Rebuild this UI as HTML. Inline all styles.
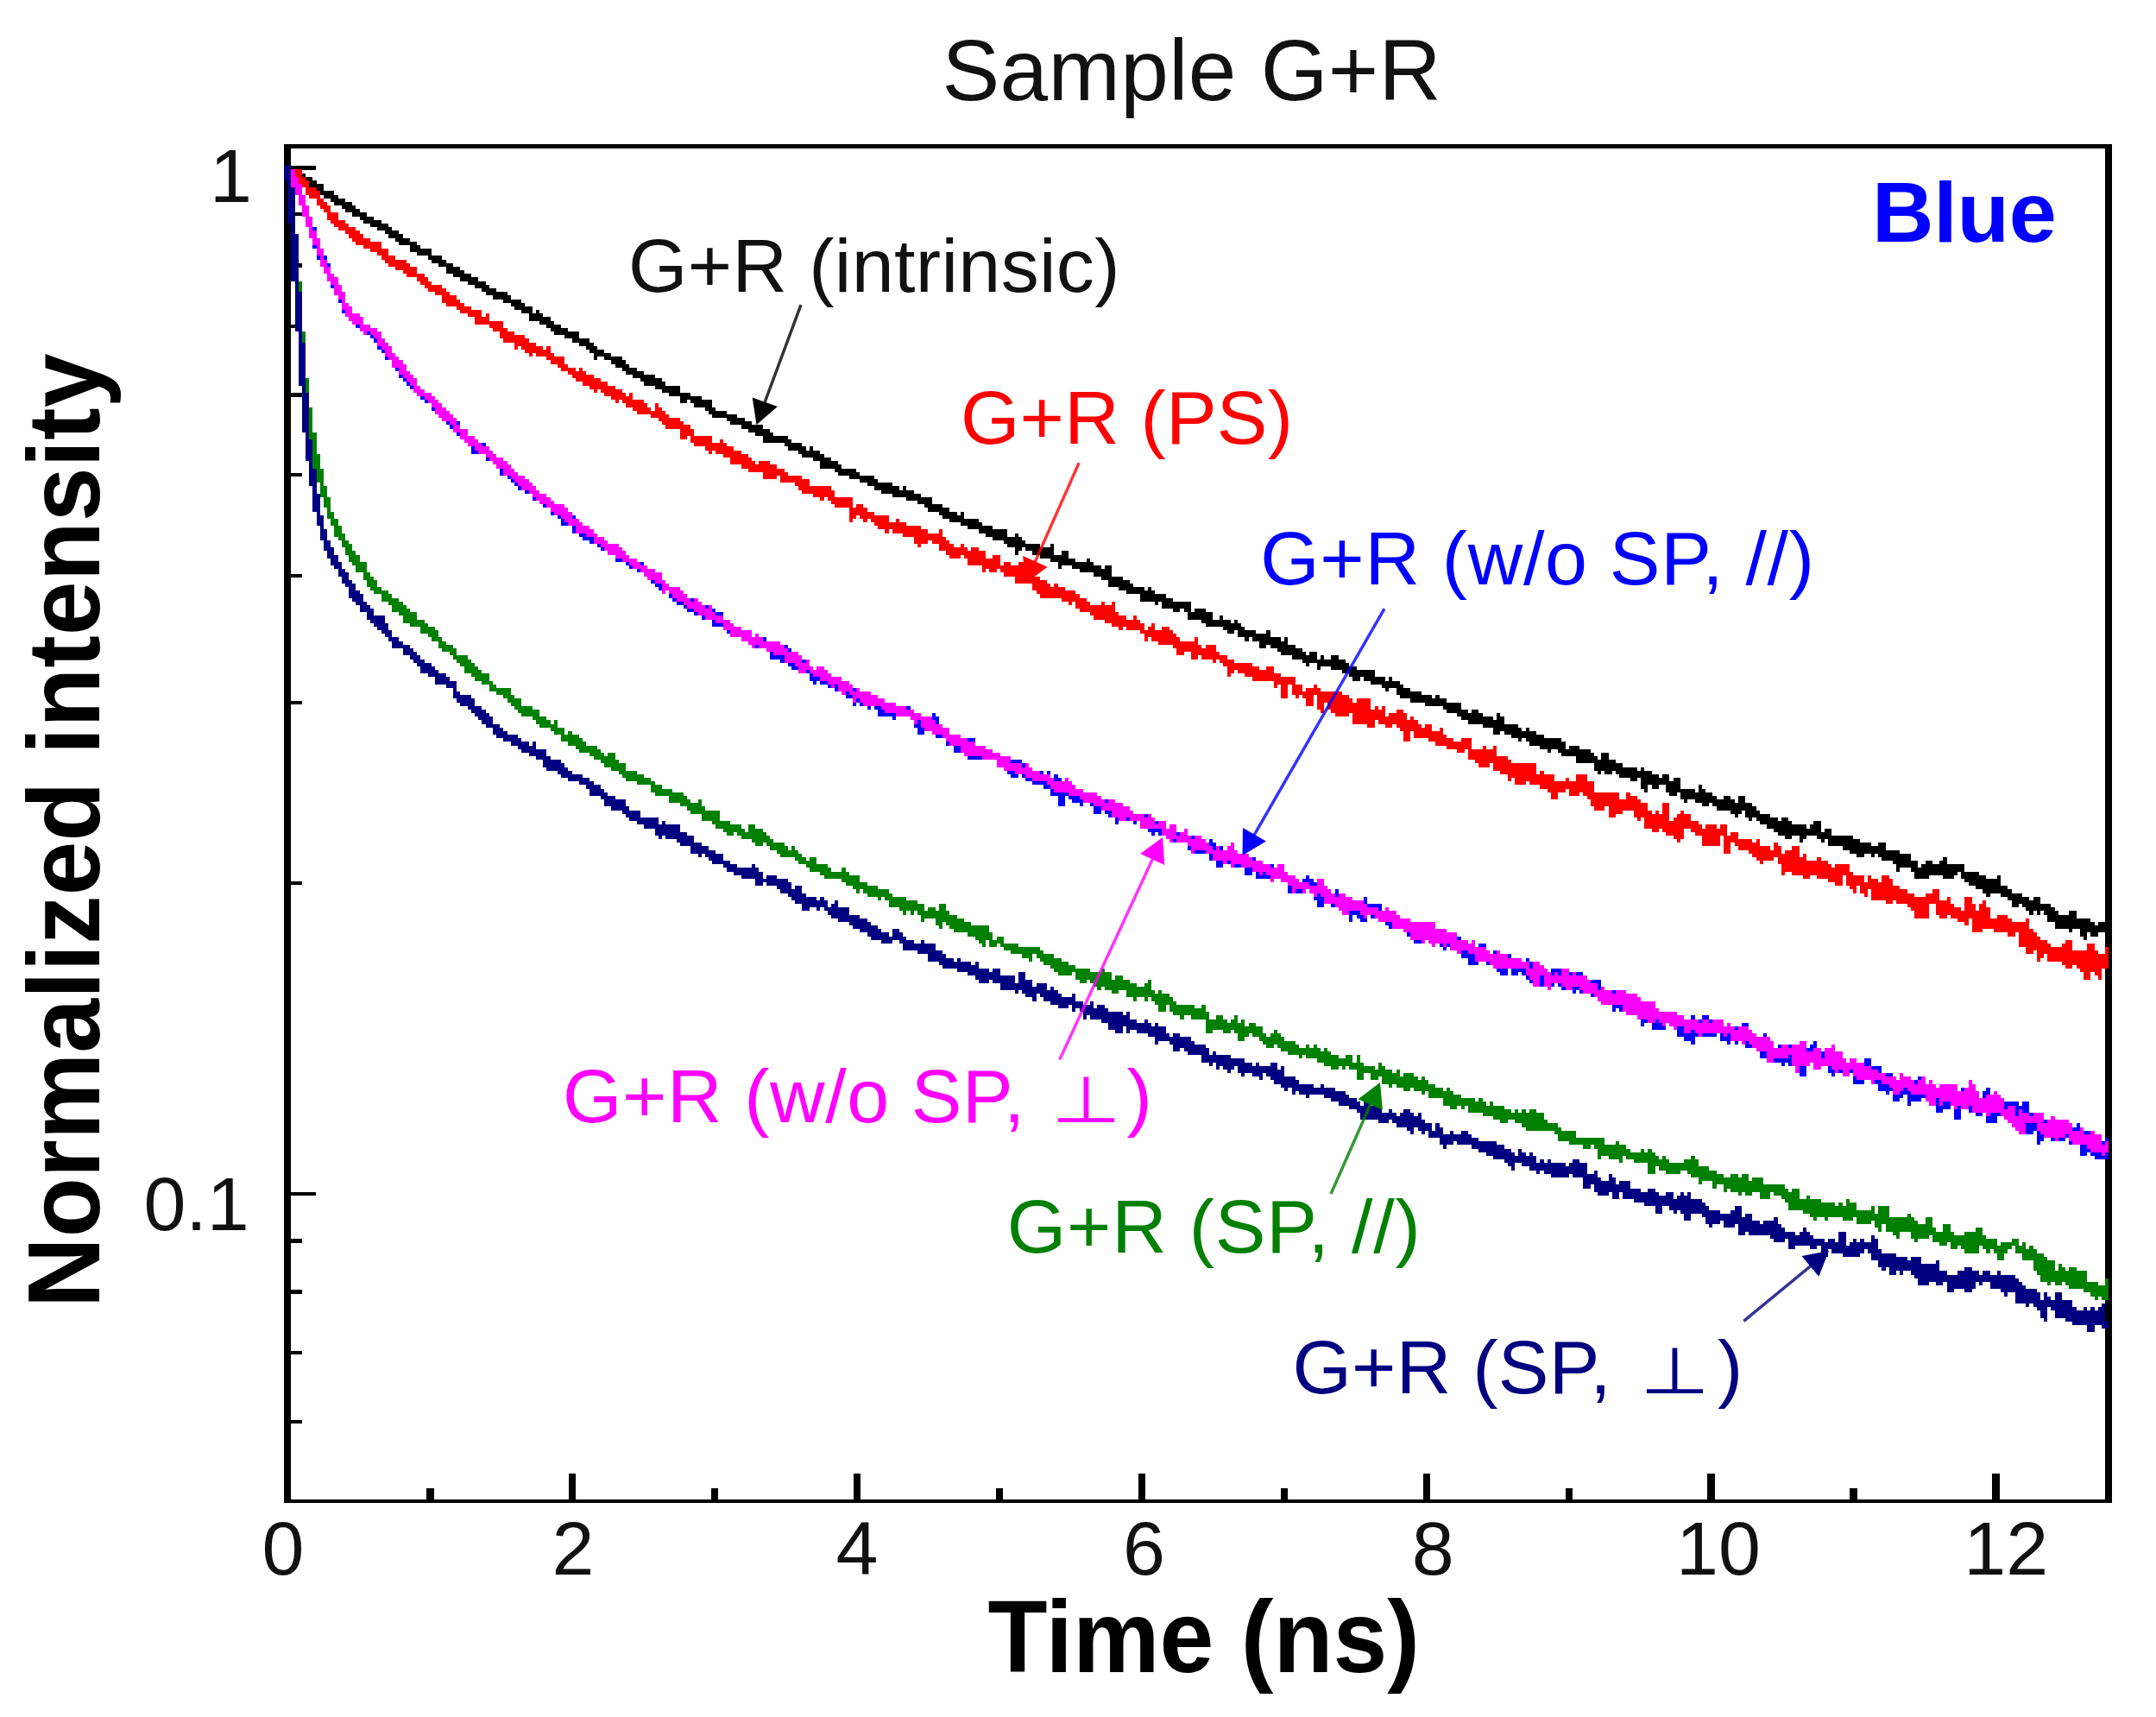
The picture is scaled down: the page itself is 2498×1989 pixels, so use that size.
<!DOCTYPE html>
<html lang="en"><head><meta charset="utf-8"><title>Sample G+R</title><style>html,body{margin:0;padding:0;background:#fff}body{width:2498px;height:1989px;overflow:hidden}svg{display:block}text{font-family:"Liberation Sans","DejaVu Sans",sans-serif}</style></head><body><svg width="2498" height="1989" viewBox="0 0 2498 1989">
<rect width="2498" height="1989" fill="#fff"/>
<g fill="#000" stroke="none" shape-rendering="crispEdges">
<rect x="329.0" y="167.3" width="8" height="1573.5"/>
<rect x="329.0" y="167.3" width="2118.0" height="4.3"/>
<rect x="329.0" y="1736.8" width="2118.0" height="4"/>
<rect x="2439.0" y="167.3" width="8" height="1573.5"/>
<rect x="337" y="192.3" width="29.4" height="4.2"/>
<rect x="337" y="246.1" width="12.7" height="4.2"/>
<rect x="337" y="305.4" width="12.7" height="4.2"/>
<rect x="337" y="376.2" width="12.7" height="4.2"/>
<rect x="337" y="455.4" width="12.7" height="4.2"/>
<rect x="337" y="547.8" width="12.7" height="4.2"/>
<rect x="337" y="664.8" width="12.7" height="4.2"/>
<rect x="337" y="811.5" width="12.7" height="4.2"/>
<rect x="337" y="1021.2" width="12.7" height="4.2"/>
<rect x="337" y="1380.9" width="29.4" height="4.2"/>
<rect x="337" y="1435.3" width="12.7" height="4.2"/>
<rect x="337" y="1494.3" width="12.7" height="4.2"/>
<rect x="337" y="1564.8" width="12.7" height="4.2"/>
<rect x="337" y="1644.5" width="12.7" height="4.2"/>
<rect x="494.2" y="1723.5" width="8.3" height="14"/>
<rect x="659.1" y="1707" width="8.3" height="31"/>
<rect x="824.1" y="1723.5" width="8.3" height="14"/>
<rect x="989.0" y="1707" width="8.3" height="31"/>
<rect x="1153.8" y="1723.5" width="8.3" height="14"/>
<rect x="1318.8" y="1707" width="8.3" height="31"/>
<rect x="1483.6" y="1723.5" width="8.3" height="14"/>
<rect x="1648.5" y="1707" width="8.3" height="31"/>
<rect x="1813.5" y="1723.5" width="8.3" height="14"/>
<rect x="1978.3" y="1707" width="8.3" height="31"/>
<rect x="2143.2" y="1723.5" width="8.3" height="14"/>
<rect x="2308.2" y="1707" width="8.3" height="31"/>
</g>
<g transform="translate(-0.43 0.40) scale(4.170)" shape-rendering="crispEdges" stroke="none">
<path fill="#000" d="M80 46h2v1h-2zM80 47h4v1h-4zM81 48h4v1h-4zM83 49h4v1h-4zM84 50h4v1h-4zM86 51h4v1h-4zM87 52h3v1h-3zM89 53h4v1h-4zM90 54h4v1h-4zM92 55h4v1h-4zM93 56h5v1h-5zM95 57h4v1h-4zM96 58h4v1h-4zM98 59h4v1h-4zM100 60h4v1h-4zM101 61h5v1h-5zM103 62h5v1h-5zM105 63h4v1h-4zM107 64h4v1h-4zM108 65h4v1h-4zM110 66h4v1h-4zM111 67h5v1h-5zM114 68h3v1h-3zM114 69h6v1h-6zM116 70h4v1h-4zM119 71h4v1h-4zM120 72h4v1h-4zM122 73h4v1h-4zM124 74h4v1h-4zM124 75h5v1h-5zM126 76h5v1h-5zM128 77h5v1h-5zM130 78h5v1h-5zM132 79h4v1h-4zM134 80h4v1h-4zM135 81h6v1h-6zM137 82h5v1h-5zM140 83h5v1h-5zM142 84h4v1h-4zM143 85h5v1h-5zM145 86h3v1h-3zM149 86h1v1h-1zM147 87h4v1h-4zM147 88h6v1h-6zM150 89h4v1h-4zM152 90h4v1h-4zM153 91h5v1h-5zM154 92h7v1h-7zM157 93h4v1h-4zM159 94h5v1h-5zM161 95h4v1h-4zM163 96h3v1h-3zM164 97h4v1h-4zM165 98h5v1h-5zM165 99h1v1h-1zM168 99h5v1h-5zM170 100h4v1h-4zM171 101h4v1h-4zM173 102h4v1h-4zM174 103h5v1h-5zM176 104h6v1h-6zM178 105h6v1h-6zM179 106h6v1h-6zM182 107h7v1h-7zM184 108h5v1h-5zM186 109h6v1h-6zM189 110h6v1h-6zM189 111h2v1h-2zM192 111h6v1h-6zM193 112h5v1h-5zM196 113h3v1h-3zM197 114h5v1h-5zM198 115h7v1h-7zM202 116h5v1h-5zM203 117h6v1h-6zM206 118h6v1h-6zM208 119h6v1h-6zM210 120h5v1h-5zM212 121h7v1h-7zM212 122h8v1h-8zM218 123h5v1h-5zM219 124h5v1h-5zM225 124h1v1h-1zM222 125h6v1h-6zM223 126h6v1h-6zM226 127h5v1h-5zM228 128h5v1h-5zM228 129h6v1h-6zM232 130h6v1h-6zM233 131h6v1h-6zM236 132h7v1h-7zM239 133h5v1h-5zM241 134h7v1h-7zM243 135h7v1h-7zM251 135h1v1h-1zM245 136h9v1h-9zM248 137h8v1h-8zM252 138h7v1h-7zM255 139h4v1h-4zM257 140h5v1h-5zM258 141h6v1h-6zM261 142h5v1h-5zM267 142h1v1h-1zM262 143h6v1h-6zM264 144h8v1h-8zM267 145h6v1h-6zM269 146h7v1h-7zM272 147h8v1h-8zM274 148h6v1h-6zM282 148h1v1h-1zM276 149h8v1h-8zM279 150h6v1h-6zM280 151h9v1h-9zM292 151h1v1h-1zM282 152h2v1h-2zM285 152h8v1h-8zM282 153h1v1h-1zM287 153h6v1h-6zM295 153h2v1h-2zM289 154h8v1h-8zM292 155h7v1h-7zM302 155h1v1h-1zM294 156h10v1h-10zM294 157h1v1h-1zM298 157h8v1h-8zM307 157h2v1h-2zM300 158h9v1h-9zM304 159h5v1h-5zM306 160h6v1h-6zM308 161h6v1h-6zM308 162h7v1h-7zM311 163h7v1h-7zM319 163h1v1h-1zM313 164h8v1h-8zM317 165h7v1h-7zM317 166h9v1h-9zM321 167h1v1h-1zM323 167h8v1h-8zM323 168h8v1h-8zM326 169h2v1h-2zM329 169h2v1h-2zM332 169h3v1h-3zM330 170h7v1h-7zM330 171h7v1h-7zM339 171h1v1h-1zM334 172h8v1h-8zM343 172h1v1h-1zM335 173h10v1h-10zM340 174h6v1h-6zM341 175h2v1h-2zM344 175h5v1h-5zM352 175h1v1h-1zM344 176h9v1h-9zM346 177h1v1h-1zM348 177h8v1h-8zM357 177h1v1h-1zM350 178h8v1h-8zM350 179h2v1h-2zM353 179h7v1h-7zM355 180h7v1h-7zM356 181h7v1h-7zM364 181h2v1h-2zM359 182h7v1h-7zM367 182h1v1h-1zM370 182h2v1h-2zM362 183h12v1h-12zM363 184h1v1h-1zM366 184h9v1h-9zM366 185h1v1h-1zM370 185h7v1h-7zM373 186h9v1h-9zM375 187h7v1h-7zM376 188h2v1h-2zM379 188h6v1h-6zM386 188h1v1h-1zM381 189h8v1h-8zM384 190h6v1h-6zM385 191h1v1h-1zM388 191h4v1h-4zM388 192h7v1h-7zM389 193h9v1h-9zM399 193h1v1h-1zM392 194h10v1h-10zM396 195h10v1h-10zM401 196h5v1h-5zM402 197h6v1h-6zM409 197h2v1h-2zM405 198h7v1h-7zM416 198h1v1h-1zM406 199h9v1h-9zM416 199h2v1h-2zM408 200h10v1h-10zM412 201h10v1h-10zM415 202h8v1h-8zM424 202h1v1h-1zM415 203h2v1h-2zM418 203h9v1h-9zM420 204h9v1h-9zM422 205h1v1h-1zM424 205h10v1h-10zM425 206h10v1h-10zM428 207h7v1h-7zM436 207h3v1h-3zM430 208h1v1h-1zM433 208h9v1h-9zM434 209h9v1h-9zM445 209h2v1h-2zM438 210h6v1h-6zM445 210h2v1h-2zM438 211h11v1h-11zM443 212h8v1h-8zM443 213h12v1h-12zM456 213h1v1h-1zM444 214h1v1h-1zM446 214h2v1h-2zM449 214h10v1h-10zM450 215h11v1h-11zM462 215h2v1h-2zM453 216h2v1h-2zM456 216h8v1h-8zM465 216h2v1h-2zM456 217h11v1h-11zM456 218h2v1h-2zM459 218h2v1h-2zM463 218h4v1h-4zM472 218h1v1h-1zM457 219h1v1h-1zM463 219h8v1h-8zM472 219h2v1h-2zM464 220h2v1h-2zM467 220h9v1h-9zM467 221h10v1h-10zM479 221h2v1h-2zM483 221h2v1h-2zM468 222h1v1h-1zM471 222h11v1h-11zM483 222h2v1h-2zM473 223h2v1h-2zM476 223h11v1h-11zM477 224h11v1h-11zM481 225h3v1h-3zM485 225h4v1h-4zM482 226h1v1h-1zM485 226h7v1h-7zM486 227h1v1h-1zM488 227h6v1h-6zM495 227h2v1h-2zM489 228h9v1h-9zM504 228h2v1h-2zM491 229h11v1h-11zM503 229h3v1h-3zM493 230h13v1h-13zM507 230h2v1h-2zM494 231h15v1h-15zM496 232h2v1h-2zM500 232h2v1h-2zM505 232h10v1h-10zM500 233h1v1h-1zM506 233h1v1h-1zM508 233h9v1h-9zM508 234h12v1h-12zM522 234h2v1h-2zM512 235h12v1h-12zM514 236h14v1h-14zM516 237h2v1h-2zM520 237h1v1h-1zM522 237h9v1h-9zM523 238h8v1h-8zM540 238h1v1h-1zM526 239h7v1h-7zM535 239h2v1h-2zM539 239h2v1h-2zM527 240h6v1h-6zM534 240h12v1h-12zM527 241h1v1h-1zM531 241h15v1h-15zM532 242h12v1h-12zM545 242h5v1h-5zM532 243h4v1h-4zM540 243h3v1h-3zM545 243h7v1h-7zM555 243h1v1h-1zM546 244h10v1h-10zM547 245h9v1h-9zM549 246h9v1h-9zM551 247h8v1h-8zM552 248h1v1h-1zM556 248h6v1h-6zM558 249h6v1h-6zM565 249h2v1h-2zM559 250h8v1h-8zM559 251h2v1h-2zM562 251h8v1h-8zM563 252h8v1h-8zM564 253h1v1h-1zM566 253h1v1h-1zM568 253h4v1h-4zM575 253h2v1h-2zM569 254h8v1h-8zM585 254h1v1h-1zM569 255h12v1h-12zM585 255h1v1h-1zM571 256h11v1h-11zM583 256h3v1h-3zM571 257h15v1h-15zM575 258h1v1h-1zM578 258h7v1h-7zM578 259h2v1h-2zM581 259h2v1h-2zM579 260h1v1h-1z"/>
<path fill="#f00" d="M80 46h1v1h-1zM80 47h4v1h-4zM80 48h4v1h-4zM82 49h3v1h-3zM83 50h3v1h-3zM84 51h2v1h-2zM85 52h3v1h-3zM85 53h4v1h-4zM86 54h3v1h-3zM88 55h2v1h-2zM88 56h3v1h-3zM89 57h3v1h-3zM90 58h2v1h-2zM91 59h3v1h-3zM91 60h3v1h-3zM92 61h4v1h-4zM93 62h4v1h-4zM94 63h5v1h-5zM96 64h4v1h-4zM97 65h4v1h-4zM98 66h5v1h-5zM99 67h7v1h-7zM101 68h5v1h-5zM103 69h5v1h-5zM105 70h3v1h-3zM106 71h4v1h-4zM107 72h6v1h-6zM108 73h6v1h-6zM110 74h6v1h-6zM112 75h4v1h-4zM113 76h5v1h-5zM116 77h3v1h-3zM117 78h3v1h-3zM118 79h5v1h-5zM119 80h5v1h-5zM121 81h4v1h-4zM123 82h4v1h-4zM123 83h5v1h-5zM124 84h5v1h-5zM127 85h4v1h-4zM128 86h6v1h-6zM130 87h4v1h-4zM135 87h1v1h-1zM132 88h4v1h-4zM132 89h8v1h-8zM136 90h4v1h-4zM137 91h4v1h-4zM139 92h4v1h-4zM139 93h7v1h-7zM140 94h7v1h-7zM143 95h6v1h-6zM143 96h1v1h-1zM145 96h6v1h-6zM152 96h1v1h-1zM146 97h7v1h-7zM147 98h1v1h-1zM149 98h5v1h-5zM152 99h5v1h-5zM153 100h4v1h-4zM155 101h3v1h-3zM156 102h4v1h-4zM161 102h1v1h-1zM158 103h5v1h-5zM159 104h6v1h-6zM160 105h7v1h-7zM162 106h7v1h-7zM164 107h7v1h-7zM165 108h1v1h-1zM167 108h6v1h-6zM168 109h6v1h-6zM175 109h1v1h-1zM170 110h6v1h-6zM171 111h1v1h-1zM173 111h6v1h-6zM174 112h6v1h-6zM182 112h1v1h-1zM176 113h5v1h-5zM182 113h2v1h-2zM177 114h8v1h-8zM181 115h5v1h-5zM183 116h6v1h-6zM184 117h6v1h-6zM185 118h7v1h-7zM189 119h4v1h-4zM189 120h4v1h-4zM189 121h2v1h-2zM192 121h6v1h-6zM192 122h6v1h-6zM200 122h1v1h-1zM193 123h9v1h-9zM196 124h8v1h-8zM197 125h1v1h-1zM199 125h7v1h-7zM201 126h7v1h-7zM203 127h6v1h-6zM203 128h7v1h-7zM211 128h3v1h-3zM206 129h10v1h-10zM208 130h10v1h-10zM212 131h7v1h-7zM212 132h4v1h-4zM217 132h6v1h-6zM217 133h8v1h-8zM221 134h4v1h-4zM222 135h9v1h-9zM223 136h9v1h-9zM226 137h6v1h-6zM228 138h1v1h-1zM230 138h7v1h-7zM231 139h6v1h-6zM232 140h5v1h-5zM238 140h2v1h-2zM236 141h5v1h-5zM236 142h7v1h-7zM236 143h2v1h-2zM239 143h8v1h-8zM236 144h1v1h-1zM240 144h1v1h-1zM242 144h5v1h-5zM249 144h1v1h-1zM243 145h9v1h-9zM244 146h12v1h-12zM246 147h1v1h-1zM248 147h10v1h-10zM261 147h1v1h-1zM251 148h11v1h-11zM254 149h9v1h-9zM254 150h4v1h-4zM259 150h5v1h-5zM255 151h1v1h-1zM261 151h4v1h-4zM267 151h1v1h-1zM261 152h8v1h-8zM270 152h2v1h-2zM263 153h11v1h-11zM264 154h3v1h-3zM268 154h6v1h-6zM276 154h2v1h-2zM269 155h9v1h-9zM269 156h9v1h-9zM279 156h2v1h-2zM283 156h2v1h-2zM273 157h12v1h-12zM273 158h1v1h-1zM275 158h2v1h-2zM278 158h7v1h-7zM286 158h1v1h-1zM279 159h8v1h-8zM282 160h7v1h-7zM282 161h9v1h-9zM287 162h5v1h-5zM293 162h1v1h-1zM287 163h9v1h-9zM288 164h11v1h-11zM289 165h11v1h-11zM295 166h7v1h-7zM297 167h1v1h-1zM299 167h4v1h-4zM306 167h1v1h-1zM309 167h1v1h-1zM299 168h11v1h-11zM300 169h10v1h-10zM303 170h8v1h-8zM304 171h9v1h-9zM315 171h1v1h-1zM307 172h10v1h-10zM309 173h9v1h-9zM320 173h1v1h-1zM311 174h1v1h-1zM313 174h5v1h-5zM319 174h2v1h-2zM323 174h2v1h-2zM317 175h9v1h-9zM318 176h9v1h-9zM318 177h1v1h-1zM320 177h8v1h-8zM332 177h1v1h-1zM322 178h11v1h-11zM326 179h8v1h-8zM335 179h3v1h-3zM327 180h11v1h-11zM327 181h2v1h-2zM331 181h8v1h-8zM331 182h2v1h-2zM334 182h7v1h-7zM337 183h1v1h-1zM339 183h4v1h-4zM340 184h8v1h-8zM341 185h9v1h-9zM352 185h2v1h-2zM341 186h2v1h-2zM344 186h10v1h-10zM341 187h1v1h-1zM346 187h10v1h-10zM348 188h12v1h-12zM354 189h6v1h-6zM354 190h1v1h-1zM356 190h2v1h-2zM359 190h3v1h-3zM365 190h1v1h-1zM356 191h2v1h-2zM359 191h3v1h-3zM363 191h4v1h-4zM356 192h2v1h-2zM359 192h14v1h-14zM356 193h2v1h-2zM360 193h1v1h-1zM362 193h3v1h-3zM366 193h9v1h-9zM363 194h2v1h-2zM366 194h10v1h-10zM377 194h4v1h-4zM363 195h2v1h-2zM366 195h2v1h-2zM369 195h12v1h-12zM366 196h2v1h-2zM369 196h12v1h-12zM382 196h1v1h-1zM384 196h1v1h-1zM367 197h1v1h-1zM370 197h15v1h-15zM388 197h2v1h-2zM371 198h4v1h-4zM376 198h9v1h-9zM386 198h5v1h-5zM376 199h15v1h-15zM392 199h1v1h-1zM376 200h6v1h-6zM383 200h11v1h-11zM380 201h2v1h-2zM385 201h2v1h-2zM388 201h7v1h-7zM396 201h2v1h-2zM389 202h9v1h-9zM400 202h1v1h-1zM390 203h2v1h-2zM393 203h8v1h-8zM390 204h2v1h-2zM393 204h9v1h-9zM390 205h2v1h-2zM397 205h7v1h-7zM406 205h3v1h-3zM399 206h10v1h-10zM402 207h7v1h-7zM412 207h1v1h-1zM415 207h1v1h-1zM405 208h2v1h-2zM408 208h8v1h-8zM408 209h8v1h-8zM408 210h11v1h-11zM410 211h10v1h-10zM411 212h3v1h-3zM415 212h12v1h-12zM415 213h12v1h-12zM417 214h10v1h-10zM428 214h1v1h-1zM419 215h13v1h-13zM438 215h3v1h-3zM419 216h1v1h-1zM421 216h11v1h-11zM435 216h1v1h-1zM438 216h3v1h-3zM421 217h3v1h-3zM425 217h18v1h-18zM428 218h15v1h-15zM430 219h5v1h-5zM436 219h7v1h-7zM431 220h2v1h-2zM436 220h3v1h-3zM440 220h10v1h-10zM452 220h1v1h-1zM431 221h2v1h-2zM441 221h9v1h-9zM452 221h3v1h-3zM442 222h14v1h-14zM442 223h16v1h-16zM462 223h2v1h-2zM443 224h3v1h-3zM447 224h11v1h-11zM462 224h2v1h-2zM447 225h4v1h-4zM454 225h5v1h-5zM460 225h1v1h-1zM462 225h2v1h-2zM467 225h1v1h-1zM447 226h2v1h-2zM454 226h10v1h-10zM466 226h4v1h-4zM455 227h1v1h-1zM457 227h7v1h-7zM465 227h5v1h-5zM457 228h15v1h-15zM457 229h16v1h-16zM474 229h3v1h-3zM478 229h2v1h-2zM459 230h2v1h-2zM462 230h6v1h-6zM470 230h10v1h-10zM463 231h5v1h-5zM471 231h9v1h-9zM481 231h2v1h-2zM465 232h3v1h-3zM473 232h5v1h-5zM479 232h4v1h-4zM466 233h1v1h-1zM473 233h5v1h-5zM479 233h8v1h-8zM488 233h1v1h-1zM473 234h5v1h-5zM479 234h2v1h-2zM482 234h7v1h-7zM493 234h1v1h-1zM479 235h2v1h-2zM483 235h9v1h-9zM493 235h2v1h-2zM498 235h2v1h-2zM479 236h2v1h-2zM486 236h9v1h-9zM496 236h4v1h-4zM487 237h13v1h-13zM501 237h1v1h-1zM488 238h5v1h-5zM494 238h8v1h-8zM505 238h1v1h-1zM489 239h1v1h-1zM494 239h14v1h-14zM495 240h14v1h-14zM510 240h4v1h-4zM495 241h19v1h-19zM495 242h1v1h-1zM498 242h17v1h-17zM501 243h2v1h-2zM505 243h7v1h-7zM513 243h5v1h-5zM519 243h1v1h-1zM523 243h2v1h-2zM508 244h4v1h-4zM513 244h5v1h-5zM519 244h3v1h-3zM523 244h3v1h-3zM510 245h2v1h-2zM513 245h13v1h-13zM514 246h2v1h-2zM517 246h11v1h-11zM515 247h1v1h-1zM517 247h2v1h-2zM520 247h10v1h-10zM537 247h2v1h-2zM518 248h1v1h-1zM520 248h12v1h-12zM535 248h4v1h-4zM520 249h19v1h-19zM541 249h1v1h-1zM546 249h2v1h-2zM524 250h2v1h-2zM527 250h15v1h-15zM546 250h2v1h-2zM551 250h1v1h-1zM530 251h6v1h-6zM538 251h5v1h-5zM546 251h3v1h-3zM550 251h2v1h-2zM531 252h5v1h-5zM538 252h7v1h-7zM546 252h3v1h-3zM550 252h3v1h-3zM532 253h4v1h-4zM538 253h15v1h-15zM532 254h4v1h-4zM539 254h2v1h-2zM542 254h11v1h-11zM555 254h3v1h-3zM544 255h3v1h-3zM548 255h11v1h-11zM563 255h1v1h-1zM546 256h1v1h-1zM548 256h16v1h-16zM548 257h16v1h-16zM548 258h3v1h-3zM554 258h11v1h-11zM558 259h2v1h-2zM561 259h5v1h-5zM561 260h6v1h-6zM561 261h8v1h-8zM574 261h2v1h-2zM561 262h9v1h-9zM573 262h3v1h-3zM580 262h2v1h-2zM563 263h13v1h-13zM580 263h2v1h-2zM585 263h1v1h-1zM563 264h2v1h-2zM566 264h17v1h-17zM585 264h1v1h-1zM566 265h2v1h-2zM569 265h17v1h-17zM566 266h1v1h-1zM569 266h17v1h-17zM573 267h13v1h-13zM574 268h2v1h-2zM577 268h9v1h-9zM578 269h6v1h-6zM579 270h2v1h-2zM582 270h2v1h-2zM579 271h2v1h-2zM583 271h1v1h-1z"/>
<path fill="#00f" d="M80 46h1v1h-1zM80 47h2v1h-2zM80 48h2v1h-2zM81 49h2v1h-2zM81 50h2v1h-2zM81 51h3v1h-3zM82 52h2v1h-2zM82 53h2v1h-2zM83 54h1v1h-1zM83 55h2v1h-2zM83 56h2v1h-2zM84 57h2v1h-2zM84 58h2v1h-2zM84 59h2v1h-2zM85 60h2v1h-2zM85 61h2v1h-2zM85 62h2v1h-2zM86 63h2v1h-2zM86 64h2v1h-2zM86 65h2v1h-2zM87 66h2v1h-2zM87 67h2v1h-2zM87 68h2v1h-2zM88 69h2v1h-2zM88 70h2v1h-2zM88 71h3v1h-3zM89 72h2v1h-2zM90 73h2v1h-2zM90 74h2v1h-2zM91 75h1v1h-1zM91 76h2v1h-2zM92 77h2v1h-2zM92 78h2v1h-2zM92 79h2v1h-2zM93 80h2v1h-2zM93 81h2v1h-2zM94 82h2v1h-2zM94 83h2v1h-2zM95 84h2v1h-2zM95 85h2v1h-2zM95 86h3v1h-3zM96 87h3v1h-3zM97 88h4v1h-4zM98 89h3v1h-3zM99 90h4v1h-4zM101 91h3v1h-3zM102 92h4v1h-4zM103 93h3v1h-3zM104 94h3v1h-3zM105 95h2v1h-2zM105 96h3v1h-3zM106 97h3v1h-3zM107 98h3v1h-3zM107 99h4v1h-4zM109 100h3v1h-3zM109 101h3v1h-3zM110 102h2v1h-2zM111 103h2v1h-2zM111 104h4v1h-4zM112 105h3v1h-3zM113 106h3v1h-3zM114 107h3v1h-3zM115 108h3v1h-3zM116 109h4v1h-4zM117 110h4v1h-4zM118 111h3v1h-3zM120 112h2v1h-2zM120 113h4v1h-4zM121 114h3v1h-3zM122 115h2v1h-2zM123 116h3v1h-3zM124 117h4v1h-4zM125 118h3v1h-3zM127 119h2v1h-2zM127 120h3v1h-3zM128 121h4v1h-4zM129 122h4v1h-4zM130 123h5v1h-5zM131 124h5v1h-5zM131 125h6v1h-6zM135 126h3v1h-3zM135 127h5v1h-5zM137 128h4v1h-4zM138 129h3v1h-3zM139 130h3v1h-3zM139 131h5v1h-5zM141 132h3v1h-3zM142 133h4v1h-4zM143 134h4v1h-4zM144 135h5v1h-5zM146 136h4v1h-4zM148 137h2v1h-2zM151 137h1v1h-1zM148 138h5v1h-5zM150 139h3v1h-3zM151 140h4v1h-4zM153 141h3v1h-3zM153 142h1v1h-1zM155 142h3v1h-3zM155 143h5v1h-5zM156 144h4v1h-4zM156 145h5v1h-5zM159 146h2v1h-2zM162 146h2v1h-2zM159 147h5v1h-5zM161 148h4v1h-4zM162 149h6v1h-6zM164 150h5v1h-5zM166 151h4v1h-4zM167 152h5v1h-5zM169 153h4v1h-4zM171 154h4v1h-4zM171 155h6v1h-6zM174 156h5v1h-5zM175 157h5v1h-5zM177 158h4v1h-4zM179 159h3v1h-3zM180 160h4v1h-4zM181 161h4v1h-4zM182 162h4v1h-4zM183 163h5v1h-5zM186 164h3v1h-3zM186 165h5v1h-5zM187 166h6v1h-6zM188 167h6v1h-6zM190 168h8v1h-8zM191 169h8v1h-8zM193 170h8v1h-8zM195 171h1v1h-1zM198 171h3v1h-3zM198 172h4v1h-4zM198 173h6v1h-6zM201 174h5v1h-5zM202 175h6v1h-6zM204 176h5v1h-5zM207 177h6v1h-6zM208 178h6v1h-6zM215 178h1v1h-1zM210 179h9v1h-9zM213 180h7v1h-7zM214 181h7v1h-7zM214 182h9v1h-9zM217 183h1v1h-1zM219 183h5v1h-5zM219 184h5v1h-5zM220 185h6v1h-6zM227 185h1v1h-1zM223 186h7v1h-7zM225 187h5v1h-5zM225 188h7v1h-7zM226 189h1v1h-1zM228 189h7v1h-7zM230 190h6v1h-6zM232 191h6v1h-6zM235 192h5v1h-5zM235 193h7v1h-7zM237 194h7v1h-7zM237 195h1v1h-1zM239 195h6v1h-6zM247 195h1v1h-1zM241 196h1v1h-1zM243 196h6v1h-6zM250 196h3v1h-3zM244 197h10v1h-10zM244 198h11v1h-11zM259 198h1v1h-1zM248 199h1v1h-1zM253 199h2v1h-2zM258 199h3v1h-3zM254 200h2v1h-2zM257 200h4v1h-4zM254 201h8v1h-8zM255 202h9v1h-9zM255 203h2v1h-2zM259 203h5v1h-5zM260 204h6v1h-6zM263 205h8v1h-8zM263 206h8v1h-8zM265 207h7v1h-7zM265 208h2v1h-2zM268 208h7v1h-7zM269 209h9v1h-9zM269 210h9v1h-9zM279 210h1v1h-1zM277 211h7v1h-7zM277 212h8v1h-8zM279 213h7v1h-7zM280 214h10v1h-10zM291 214h1v1h-1zM281 215h2v1h-2zM284 215h8v1h-8zM293 215h1v1h-1zM285 216h10v1h-10zM287 217h9v1h-9zM290 218h8v1h-8zM292 219h6v1h-6zM292 220h11v1h-11zM294 221h2v1h-2zM297 221h7v1h-7zM305 221h1v1h-1zM294 222h2v1h-2zM298 222h11v1h-11zM294 223h2v1h-2zM300 223h1v1h-1zM303 223h8v1h-8zM304 224h8v1h-8zM304 225h2v1h-2zM307 225h8v1h-8zM308 226h11v1h-11zM310 227h1v1h-1zM313 227h7v1h-7zM310 228h1v1h-1zM315 228h1v1h-1zM317 228h3v1h-3zM321 228h2v1h-2zM317 229h6v1h-6zM319 230h8v1h-8zM320 231h1v1h-1zM322 231h8v1h-8zM324 232h8v1h-8zM326 233h8v1h-8zM336 233h1v1h-1zM330 234h8v1h-8zM330 235h10v1h-10zM331 236h10v1h-10zM342 236h2v1h-2zM336 237h8v1h-8zM345 237h1v1h-1zM336 238h13v1h-13zM338 239h13v1h-13zM338 240h2v1h-2zM342 240h12v1h-12zM355 240h1v1h-1zM346 241h10v1h-10zM346 242h2v1h-2zM349 242h8v1h-8zM349 243h10v1h-10zM363 243h1v1h-1zM356 244h5v1h-5zM362 244h3v1h-3zM358 245h8v1h-8zM358 246h9v1h-9zM358 247h5v1h-5zM364 247h6v1h-6zM371 247h1v1h-1zM365 248h9v1h-9zM365 249h9v1h-9zM379 249h1v1h-1zM366 250h10v1h-10zM378 250h2v1h-2zM366 251h2v1h-2zM370 251h7v1h-7zM378 251h6v1h-6zM374 252h10v1h-10zM375 253h11v1h-11zM375 254h1v1h-1zM377 254h3v1h-3zM381 254h1v1h-1zM383 254h4v1h-4zM375 255h1v1h-1zM378 255h2v1h-2zM384 255h7v1h-7zM385 256h7v1h-7zM393 256h2v1h-2zM386 257h10v1h-10zM397 257h1v1h-1zM390 258h10v1h-10zM391 259h10v1h-10zM393 260h13v1h-13zM393 261h3v1h-3zM397 261h9v1h-9zM400 262h7v1h-7zM408 262h2v1h-2zM411 262h2v1h-2zM401 263h1v1h-1zM406 263h1v1h-1zM408 263h2v1h-2zM411 263h2v1h-2zM406 264h8v1h-8zM415 264h2v1h-2zM406 265h11v1h-11zM419 265h1v1h-1zM408 266h9v1h-9zM418 266h5v1h-5zM424 266h1v1h-1zM408 267h3v1h-3zM413 267h13v1h-13zM415 268h4v1h-4zM420 268h6v1h-6zM416 269h3v1h-3zM420 269h7v1h-7zM428 269h2v1h-2zM431 269h5v1h-5zM417 270h2v1h-2zM420 270h2v1h-2zM423 270h14v1h-14zM438 270h2v1h-2zM424 271h17v1h-17zM425 272h1v1h-1zM427 272h18v1h-18zM428 273h4v1h-4zM433 273h12v1h-12zM434 274h2v1h-2zM437 274h9v1h-9zM437 275h1v1h-1zM439 275h1v1h-1zM441 275h8v1h-8zM442 276h1v1h-1zM445 276h4v1h-4zM451 276h2v1h-2zM445 277h4v1h-4zM450 277h3v1h-3zM455 277h1v1h-1zM445 278h13v1h-13zM448 279h12v1h-12zM448 280h1v1h-1zM450 280h1v1h-1zM452 280h8v1h-8zM453 281h1v1h-1zM455 281h8v1h-8zM456 282h10v1h-10zM470 282h1v1h-1zM473 282h2v1h-2zM456 283h13v1h-13zM470 283h7v1h-7zM456 284h1v1h-1zM459 284h4v1h-4zM464 284h15v1h-15zM484 284h2v1h-2zM459 285h4v1h-4zM465 285h16v1h-16zM482 285h1v1h-1zM484 285h2v1h-2zM466 286h21v1h-21zM466 287h6v1h-6zM473 287h4v1h-4zM478 287h10v1h-10zM490 287h1v1h-1zM468 288h3v1h-3zM478 288h14v1h-14zM470 289h1v1h-1zM480 289h1v1h-1zM482 289h1v1h-1zM485 289h7v1h-7zM500 289h1v1h-1zM504 289h1v1h-1zM485 290h8v1h-8zM494 290h7v1h-7zM503 290h2v1h-2zM489 291h16v1h-16zM489 292h18v1h-18zM508 292h1v1h-1zM489 293h2v1h-2zM492 293h20v1h-20zM493 294h5v1h-5zM499 294h4v1h-4zM504 294h9v1h-9zM518 294h2v1h-2zM495 295h1v1h-1zM497 295h1v1h-1zM499 295h3v1h-3zM507 295h13v1h-13zM500 296h2v1h-2zM508 296h15v1h-15zM500 297h2v1h-2zM508 297h15v1h-15zM500 298h2v1h-2zM509 298h1v1h-1zM512 298h2v1h-2zM515 298h11v1h-11zM515 299h11v1h-11zM528 299h2v1h-2zM533 299h2v1h-2zM515 300h3v1h-3zM521 300h6v1h-6zM528 300h7v1h-7zM522 301h14v1h-14zM522 302h16v1h-16zM541 302h2v1h-2zM545 302h2v1h-2zM552 302h1v1h-1zM524 303h1v1h-1zM526 303h12v1h-12zM540 303h4v1h-4zM545 303h2v1h-2zM551 303h2v1h-2zM526 304h3v1h-3zM530 304h18v1h-18zM549 304h1v1h-1zM551 304h2v1h-2zM526 305h2v1h-2zM530 305h4v1h-4zM535 305h15v1h-15zM551 305h2v1h-2zM555 305h2v1h-2zM530 306h1v1h-1zM538 306h4v1h-4zM543 306h2v1h-2zM546 306h8v1h-8zM555 306h6v1h-6zM562 306h2v1h-2zM538 307h4v1h-4zM543 307h2v1h-2zM546 307h18v1h-18zM538 308h2v1h-2zM543 308h2v1h-2zM547 308h4v1h-4zM552 308h12v1h-12zM543 309h2v1h-2zM549 309h2v1h-2zM552 309h4v1h-4zM557 309h10v1h-10zM543 310h2v1h-2zM552 310h3v1h-3zM557 310h10v1h-10zM552 311h3v1h-3zM559 311h11v1h-11zM573 311h1v1h-1zM559 312h15v1h-15zM577 312h1v1h-1zM560 313h1v1h-1zM562 313h17v1h-17zM562 314h3v1h-3zM566 314h16v1h-16zM566 315h3v1h-3zM570 315h12v1h-12zM566 316h2v1h-2zM570 316h4v1h-4zM575 316h9v1h-9zM585 316h1v1h-1zM566 317h1v1h-1zM575 317h11v1h-11zM578 318h8v1h-8zM578 319h8v1h-8zM578 320h2v1h-2zM581 320h5v1h-5zM582 321h4v1h-4z"/>
<path fill="#f0f" d="M80 46h1v1h-1zM80 47h2v1h-2zM80 48h2v1h-2zM80 49h3v1h-3zM81 50h2v1h-2zM81 51h3v1h-3zM82 52h2v1h-2zM82 53h2v1h-2zM83 54h2v1h-2zM83 55h2v1h-2zM83 56h2v1h-2zM84 57h2v1h-2zM84 58h2v1h-2zM84 59h2v1h-2zM85 60h2v1h-2zM85 61h2v1h-2zM85 62h2v1h-2zM86 63h1v1h-1zM86 64h2v1h-2zM86 65h2v1h-2zM87 66h2v1h-2zM87 67h2v1h-2zM88 68h1v1h-1zM88 69h2v1h-2zM88 70h2v1h-2zM89 71h1v1h-1zM89 72h2v1h-2zM89 73h2v1h-2zM90 74h2v1h-2zM90 75h2v1h-2zM91 76h2v1h-2zM91 77h3v1h-3zM92 78h2v1h-2zM93 79h2v1h-2zM93 80h2v1h-2zM93 81h3v1h-3zM94 82h2v1h-2zM95 83h1v1h-1zM95 84h2v1h-2zM95 85h3v1h-3zM96 86h2v1h-2zM96 87h4v1h-4zM97 88h4v1h-4zM98 89h3v1h-3zM100 90h3v1h-3zM100 91h5v1h-5zM101 92h1v1h-1zM103 92h3v1h-3zM104 93h2v1h-2zM105 94h2v1h-2zM105 95h3v1h-3zM106 96h3v1h-3zM107 97h2v1h-2zM107 98h3v1h-3zM108 99h3v1h-3zM109 100h3v1h-3zM109 101h4v1h-4zM111 102h2v1h-2zM111 103h3v1h-3zM112 104h3v1h-3zM113 105h3v1h-3zM114 106h2v1h-2zM115 107h2v1h-2zM115 108h3v1h-3zM116 109h4v1h-4zM118 110h3v1h-3zM119 111h3v1h-3zM120 112h3v1h-3zM121 113h3v1h-3zM121 114h4v1h-4zM122 115h4v1h-4zM123 116h4v1h-4zM125 117h2v1h-2zM126 118h2v1h-2zM126 119h4v1h-4zM128 120h2v1h-2zM128 121h4v1h-4zM129 122h4v1h-4zM130 123h4v1h-4zM132 124h4v1h-4zM133 125h4v1h-4zM135 126h3v1h-3zM136 127h4v1h-4zM137 128h4v1h-4zM138 129h4v1h-4zM140 130h3v1h-3zM140 131h4v1h-4zM142 132h4v1h-4zM143 133h4v1h-4zM144 134h4v1h-4zM145 135h4v1h-4zM147 136h3v1h-3zM148 137h4v1h-4zM149 138h4v1h-4zM150 139h4v1h-4zM152 140h5v1h-5zM153 141h5v1h-5zM154 142h5v1h-5zM156 143h3v1h-3zM157 144h4v1h-4zM158 145h4v1h-4zM160 146h4v1h-4zM160 147h5v1h-5zM163 148h3v1h-3zM165 149h3v1h-3zM165 150h4v1h-4zM167 151h5v1h-5zM168 152h5v1h-5zM169 153h5v1h-5zM171 154h4v1h-4zM173 155h4v1h-4zM175 156h3v1h-3zM176 157h4v1h-4zM178 158h4v1h-4zM179 159h5v1h-5zM180 160h4v1h-4zM182 161h3v1h-3zM184 162h2v1h-2zM184 163h5v1h-5zM184 164h1v1h-1zM186 164h4v1h-4zM187 165h4v1h-4zM188 166h4v1h-4zM193 166h1v1h-1zM190 167h5v1h-5zM191 168h5v1h-5zM197 168h1v1h-1zM193 169h5v1h-5zM194 170h5v1h-5zM196 171h5v1h-5zM199 172h4v1h-4zM201 173h3v1h-3zM201 174h5v1h-5zM203 175h6v1h-6zM203 176h6v1h-6zM210 176h1v1h-1zM206 177h6v1h-6zM208 178h9v1h-9zM209 179h1v1h-1zM211 179h7v1h-7zM213 180h6v1h-6zM215 181h7v1h-7zM218 182h5v1h-5zM218 183h5v1h-5zM224 183h1v1h-1zM221 184h4v1h-4zM222 185h4v1h-4zM227 185h2v1h-2zM222 186h2v1h-2zM225 186h5v1h-5zM226 187h5v1h-5zM228 188h6v1h-6zM230 189h6v1h-6zM231 190h1v1h-1zM233 190h4v1h-4zM233 191h4v1h-4zM238 191h1v1h-1zM234 192h1v1h-1zM236 192h6v1h-6zM237 193h7v1h-7zM237 194h1v1h-1zM239 194h7v1h-7zM240 195h9v1h-9zM245 196h7v1h-7zM246 197h8v1h-8zM249 198h7v1h-7zM253 199h6v1h-6zM254 200h1v1h-1zM256 200h4v1h-4zM256 201h6v1h-6zM257 202h7v1h-7zM259 203h5v1h-5zM262 204h5v1h-5zM263 205h6v1h-6zM264 206h7v1h-7zM267 207h7v1h-7zM267 208h9v1h-9zM268 209h10v1h-10zM273 210h8v1h-8zM277 211h4v1h-4zM277 212h7v1h-7zM285 212h1v1h-1zM279 213h8v1h-8zM282 214h7v1h-7zM285 215h7v1h-7zM287 216h6v1h-6zM296 216h1v1h-1zM291 217h7v1h-7zM292 218h7v1h-7zM293 219h8v1h-8zM297 220h8v1h-8zM300 221h6v1h-6zM301 222h6v1h-6zM308 222h2v1h-2zM304 223h8v1h-8zM306 224h8v1h-8zM309 225h6v1h-6zM309 226h9v1h-9zM319 226h1v1h-1zM311 227h2v1h-2zM314 227h7v1h-7zM317 228h4v1h-4zM322 228h2v1h-2zM317 229h7v1h-7zM325 229h2v1h-2zM323 230h4v1h-4zM329 230h1v1h-1zM323 231h4v1h-4zM328 231h2v1h-2zM324 232h7v1h-7zM332 232h2v1h-2zM325 233h1v1h-1zM327 233h8v1h-8zM330 234h6v1h-6zM342 234h1v1h-1zM331 235h6v1h-6zM338 235h1v1h-1zM341 235h2v1h-2zM331 236h1v1h-1zM335 236h9v1h-9zM337 237h10v1h-10zM337 238h11v1h-11zM340 239h1v1h-1zM342 239h9v1h-9zM342 240h1v1h-1zM345 240h8v1h-8zM355 240h2v1h-2zM348 241h9v1h-9zM350 242h1v1h-1zM352 242h6v1h-6zM353 243h7v1h-7zM353 244h1v1h-1zM356 244h5v1h-5zM366 244h2v1h-2zM358 245h6v1h-6zM366 245h2v1h-2zM359 246h10v1h-10zM359 247h1v1h-1zM362 247h1v1h-1zM364 247h6v1h-6zM365 248h1v1h-1zM367 248h4v1h-4zM372 248h2v1h-2zM368 249h8v1h-8zM368 250h11v1h-11zM371 251h9v1h-9zM372 252h11v1h-11zM385 252h1v1h-1zM373 253h2v1h-2zM378 253h10v1h-10zM379 254h1v1h-1zM382 254h7v1h-7zM383 255h9v1h-9zM387 256h12v1h-12zM387 257h12v1h-12zM390 258h12v1h-12zM392 259h13v1h-13zM392 260h13v1h-13zM395 261h1v1h-1zM397 261h11v1h-11zM409 261h1v1h-1zM398 262h1v1h-1zM401 262h1v1h-1zM403 262h7v1h-7zM403 263h10v1h-10zM405 264h1v1h-1zM408 264h6v1h-6zM416 264h1v1h-1zM410 265h9v1h-9zM410 266h13v1h-13zM414 267h11v1h-11zM426 267h2v1h-2zM415 268h10v1h-10zM426 268h3v1h-3zM424 269h6v1h-6zM434 269h2v1h-2zM424 270h7v1h-7zM432 270h1v1h-1zM434 270h2v1h-2zM437 270h1v1h-1zM425 271h3v1h-3zM429 271h12v1h-12zM426 272h2v1h-2zM429 272h13v1h-13zM426 273h2v1h-2zM429 273h2v1h-2zM434 273h10v1h-10zM430 274h1v1h-1zM435 274h2v1h-2zM439 274h5v1h-5zM445 274h1v1h-1zM440 275h8v1h-8zM449 275h3v1h-3zM443 276h12v1h-12zM444 277h12v1h-12zM445 278h15v1h-15zM451 279h9v1h-9zM451 280h10v1h-10zM452 281h14v1h-14zM455 282h13v1h-13zM458 283h2v1h-2zM461 283h11v1h-11zM473 283h2v1h-2zM476 283h3v1h-3zM462 284h1v1h-1zM464 284h15v1h-15zM480 284h1v1h-1zM465 285h1v1h-1zM468 285h14v1h-14zM483 285h3v1h-3zM468 286h2v1h-2zM471 286h16v1h-16zM472 287h1v1h-1zM479 287h1v1h-1zM481 287h7v1h-7zM481 288h11v1h-11zM484 289h1v1h-1zM486 289h7v1h-7zM500 289h2v1h-2zM487 290h6v1h-6zM495 290h2v1h-2zM498 290h4v1h-4zM509 290h1v1h-1zM488 291h14v1h-14zM504 291h2v1h-2zM507 291h3v1h-3zM491 292h15v1h-15zM507 292h5v1h-5zM491 293h6v1h-6zM498 293h8v1h-8zM507 293h5v1h-5zM491 294h2v1h-2zM498 294h15v1h-15zM514 294h2v1h-2zM498 295h5v1h-5zM504 295h14v1h-14zM499 296h1v1h-1zM504 296h2v1h-2zM509 296h11v1h-11zM499 297h1v1h-1zM510 297h1v1h-1zM512 297h2v1h-2zM515 297h7v1h-7zM512 298h2v1h-2zM515 298h9v1h-9zM528 298h1v1h-1zM516 299h11v1h-11zM528 299h3v1h-3zM534 299h1v1h-1zM520 300h1v1h-1zM523 300h9v1h-9zM533 300h2v1h-2zM536 300h1v1h-1zM547 300h1v1h-1zM525 301h13v1h-13zM539 301h5v1h-5zM547 301h2v1h-2zM526 302h3v1h-3zM530 302h14v1h-14zM546 302h3v1h-3zM526 303h2v1h-2zM531 303h19v1h-19zM554 303h1v1h-1zM535 304h15v1h-15zM552 304h4v1h-4zM535 305h3v1h-3zM539 305h18v1h-18zM536 306h2v1h-2zM539 306h1v1h-1zM542 306h15v1h-15zM543 307h1v1h-1zM545 307h2v1h-2zM548 307h9v1h-9zM558 307h2v1h-2zM548 308h12v1h-12zM561 308h1v1h-1zM552 309h1v1h-1zM556 309h4v1h-4zM561 309h3v1h-3zM565 309h3v1h-3zM557 310h11v1h-11zM570 310h1v1h-1zM558 311h10v1h-10zM569 311h6v1h-6zM559 312h4v1h-4zM566 312h10v1h-10zM560 313h3v1h-3zM566 313h10v1h-10zM578 313h1v1h-1zM561 314h2v1h-2zM567 314h12v1h-12zM581 314h1v1h-1zM568 315h6v1h-6zM575 315h9v1h-9zM571 316h1v1h-1zM575 316h9v1h-9zM576 317h8v1h-8zM585 317h1v1h-1zM580 318h6v1h-6zM581 319h5v1h-5zM584 320h1v1h-1z"/>
<path fill="#008000" d="M81 53h1v1h-1zM81 54h1v1h-1zM81 55h1v1h-1zM81 56h1v1h-1zM81 57h1v1h-1zM81 58h1v1h-1zM81 59h1v1h-1zM81 60h1v1h-1zM81 61h1v1h-1zM81 62h1v1h-1zM81 63h1v1h-1zM81 64h1v1h-1zM81 65h2v1h-2zM81 66h2v1h-2zM81 67h2v1h-2zM81 68h2v1h-2zM81 69h2v1h-2zM81 70h2v1h-2zM81 71h2v1h-2zM81 72h2v1h-2zM81 73h2v1h-2zM81 74h2v1h-2zM82 75h1v1h-1zM82 76h1v1h-1zM82 77h1v1h-1zM82 78h2v1h-2zM82 79h2v1h-2zM82 80h2v1h-2zM82 81h2v1h-2zM82 82h2v1h-2zM82 83h2v1h-2zM82 84h2v1h-2zM82 85h2v1h-2zM82 86h2v1h-2zM82 87h2v1h-2zM82 88h2v1h-2zM82 89h2v1h-2zM83 90h1v1h-1zM83 91h1v1h-1zM83 92h2v1h-2zM83 93h2v1h-2zM83 94h2v1h-2zM83 95h2v1h-2zM83 96h2v1h-2zM83 97h2v1h-2zM83 98h2v1h-2zM83 99h2v1h-2zM83 100h2v1h-2zM83 101h2v1h-2zM83 102h2v1h-2zM84 103h1v1h-1zM84 104h1v1h-1zM84 105h2v1h-2zM84 106h2v1h-2zM84 107h2v1h-2zM84 108h2v1h-2zM84 109h2v1h-2zM84 110h2v1h-2zM84 111h2v1h-2zM85 112h1v1h-1zM85 113h2v1h-2zM85 114h2v1h-2zM85 115h2v1h-2zM85 116h2v1h-2zM85 117h2v1h-2zM85 118h2v1h-2zM86 119h1v1h-1zM86 120h2v1h-2zM86 121h2v1h-2zM86 122h2v1h-2zM86 123h2v1h-2zM86 124h2v1h-2zM87 125h1v1h-1zM87 126h2v1h-2zM87 127h2v1h-2zM87 128h2v1h-2zM87 129h2v1h-2zM88 130h2v1h-2zM88 131h2v1h-2zM88 132h2v1h-2zM88 133h2v1h-2zM89 134h1v1h-1zM89 135h2v1h-2zM89 136h2v1h-2zM89 137h2v1h-2zM90 138h2v1h-2zM90 139h2v1h-2zM90 140h2v1h-2zM91 141h1v1h-1zM91 142h2v1h-2zM91 143h2v1h-2zM92 144h2v1h-2zM92 145h2v1h-2zM93 146h2v1h-2zM93 147h2v1h-2zM93 148h3v1h-3zM94 149h2v1h-2zM95 150h2v1h-2zM95 151h3v1h-3zM96 152h2v1h-2zM96 153h3v1h-3zM97 154h3v1h-3zM97 155h3v1h-3zM98 156h4v1h-4zM99 157h3v1h-3zM99 158h3v1h-3zM101 159h2v1h-2zM101 160h3v1h-3zM102 161h3v1h-3zM102 162h3v1h-3zM103 163h3v1h-3zM104 164h4v1h-4zM106 165h3v1h-3zM106 166h5v1h-5zM108 167h4v1h-4zM109 168h4v1h-4zM109 169h5v1h-5zM111 170h5v1h-5zM112 171h4v1h-4zM112 172h6v1h-6zM114 173h5v1h-5zM117 174h4v1h-4zM117 175h5v1h-5zM119 176h3v1h-3zM120 177h3v1h-3zM122 178h2v1h-2zM122 179h4v1h-4zM123 180h4v1h-4zM125 181h2v1h-2zM126 182h4v1h-4zM127 183h4v1h-4zM128 184h4v1h-4zM129 185h4v1h-4zM129 186h5v1h-5zM131 187h5v1h-5zM132 188h4v1h-4zM134 189h3v1h-3zM136 190h2v1h-2zM136 191h6v1h-6zM138 192h4v1h-4zM140 193h3v1h-3zM141 194h4v1h-4zM142 195h3v1h-3zM143 196h5v1h-5zM144 197h6v1h-6zM145 198h5v1h-5zM148 199h4v1h-4zM149 200h4v1h-4zM154 200h1v1h-1zM150 201h5v1h-5zM153 202h4v1h-4zM154 203h3v1h-3zM158 203h1v1h-1zM156 204h5v1h-5zM156 205h6v1h-6zM158 206h5v1h-5zM160 207h6v1h-6zM161 208h6v1h-6zM164 209h4v1h-4zM169 209h2v1h-2zM165 210h6v1h-6zM167 211h5v1h-5zM168 212h6v1h-6zM170 213h4v1h-4zM172 214h5v1h-5zM173 215h6v1h-6zM174 216h7v1h-7zM177 217h5v1h-5zM181 218h3v1h-3zM181 219h6v1h-6zM182 220h8v1h-8zM186 221h5v1h-5zM186 222h6v1h-6zM194 222h1v1h-1zM189 223h6v1h-6zM191 224h5v1h-5zM192 225h8v1h-8zM195 226h5v1h-5zM195 227h5v1h-5zM198 228h5v1h-5zM199 229h7v1h-7zM208 229h2v1h-2zM201 230h6v1h-6zM208 230h4v1h-4zM202 231h2v1h-2zM205 231h8v1h-8zM206 232h8v1h-8zM209 233h6v1h-6zM210 234h2v1h-2zM213 234h5v1h-5zM214 235h5v1h-5zM220 235h1v1h-1zM216 236h6v1h-6zM217 237h6v1h-6zM221 238h3v1h-3zM225 238h2v1h-2zM222 239h5v1h-5zM224 240h6v1h-6zM225 241h6v1h-6zM234 241h1v1h-1zM228 242h8v1h-8zM229 243h10v1h-10zM234 244h5v1h-5zM235 245h6v1h-6zM237 246h7v1h-7zM238 247h1v1h-1zM240 247h7v1h-7zM241 248h7v1h-7zM244 249h1v1h-1zM246 249h6v1h-6zM247 250h8v1h-8zM247 251h10v1h-10zM261 251h2v1h-2zM250 252h7v1h-7zM258 252h2v1h-2zM261 252h2v1h-2zM251 253h1v1h-1zM253 253h1v1h-1zM255 253h9v1h-9zM256 254h10v1h-10zM256 255h1v1h-1zM260 255h8v1h-8zM260 256h2v1h-2zM263 256h7v1h-7zM261 257h1v1h-1zM264 257h11v1h-11zM265 258h10v1h-10zM269 259h7v1h-7zM271 260h5v1h-5zM277 260h2v1h-2zM272 261h2v1h-2zM275 261h4v1h-4zM273 262h1v1h-1zM275 262h2v1h-2zM278 262h5v1h-5zM279 263h10v1h-10zM281 264h9v1h-9zM284 265h3v1h-3zM288 265h5v1h-5zM286 266h1v1h-1zM289 266h6v1h-6zM290 267h7v1h-7zM292 268h7v1h-7zM293 269h10v1h-10zM306 269h1v1h-1zM294 270h4v1h-4zM299 270h10v1h-10zM299 271h10v1h-10zM310 271h2v1h-2zM300 272h2v1h-2zM303 272h11v1h-11zM319 272h1v1h-1zM304 273h12v1h-12zM318 273h2v1h-2zM305 274h1v1h-1zM307 274h13v1h-13zM309 275h2v1h-2zM313 275h8v1h-8zM322 275h1v1h-1zM313 276h12v1h-12zM315 277h1v1h-1zM318 277h1v1h-1zM320 277h6v1h-6zM321 278h6v1h-6zM322 279h2v1h-2zM325 279h7v1h-7zM334 279h1v1h-1zM322 280h2v1h-2zM325 280h10v1h-10zM326 281h10v1h-10zM328 282h1v1h-1zM331 282h5v1h-5zM338 282h2v1h-2zM343 282h1v1h-1zM335 283h6v1h-6zM342 283h2v1h-2zM345 283h1v1h-1zM335 284h11v1h-11zM347 284h2v1h-2zM335 285h16v1h-16zM335 286h2v1h-2zM340 286h2v1h-2zM343 286h8v1h-8zM354 286h1v1h-1zM344 287h3v1h-3zM348 287h4v1h-4zM353 287h3v1h-3zM344 288h2v1h-2zM350 288h7v1h-7zM351 289h9v1h-9zM352 290h2v1h-2zM355 290h6v1h-6zM363 290h1v1h-1zM365 290h1v1h-1zM356 291h11v1h-11zM368 291h1v1h-1zM358 292h12v1h-12zM361 293h1v1h-1zM363 293h9v1h-9zM374 293h2v1h-2zM377 293h1v1h-1zM366 294h10v1h-10zM377 294h1v1h-1zM368 295h11v1h-11zM383 295h1v1h-1zM370 296h2v1h-2zM373 296h1v1h-1zM375 296h7v1h-7zM383 296h2v1h-2zM377 297h10v1h-10zM388 297h1v1h-1zM377 298h2v1h-2zM381 298h8v1h-8zM390 298h3v1h-3zM377 299h2v1h-2zM381 299h2v1h-2zM384 299h10v1h-10zM395 299h1v1h-1zM384 300h13v1h-13zM386 301h1v1h-1zM388 301h11v1h-11zM390 302h2v1h-2zM393 302h8v1h-8zM402 302h1v1h-1zM395 303h1v1h-1zM397 303h7v1h-7zM397 304h9v1h-9zM401 305h9v1h-9zM411 305h1v1h-1zM401 306h12v1h-12zM414 306h1v1h-1zM403 307h2v1h-2zM406 307h1v1h-1zM408 307h10v1h-10zM408 308h12v1h-12zM421 308h1v1h-1zM423 308h1v1h-1zM425 308h2v1h-2zM412 309h17v1h-17zM415 310h14v1h-14zM417 311h2v1h-2zM421 311h9v1h-9zM423 312h10v1h-10zM424 313h10v1h-10zM432 314h6v1h-6zM433 315h5v1h-5zM433 316h13v1h-13zM436 317h10v1h-10zM449 317h1v1h-1zM440 318h2v1h-2zM443 318h9v1h-9zM444 319h9v1h-9zM456 319h1v1h-1zM458 319h1v1h-1zM444 320h16v1h-16zM444 321h1v1h-1zM447 321h4v1h-4zM452 321h9v1h-9zM462 321h1v1h-1zM470 321h1v1h-1zM450 322h1v1h-1zM454 322h10v1h-10zM468 322h4v1h-4zM458 323h14v1h-14zM458 324h2v1h-2zM461 324h14v1h-14zM458 325h2v1h-2zM463 325h4v1h-4zM469 325h8v1h-8zM470 326h9v1h-9zM481 326h2v1h-2zM484 326h2v1h-2zM472 327h14v1h-14zM487 327h3v1h-3zM472 328h1v1h-1zM476 328h14v1h-14zM476 329h1v1h-1zM479 329h17v1h-17zM479 330h1v1h-1zM481 330h16v1h-16zM498 330h2v1h-2zM483 331h1v1h-1zM485 331h2v1h-2zM489 331h3v1h-3zM493 331h7v1h-7zM489 332h3v1h-3zM495 332h5v1h-5zM502 332h1v1h-1zM496 333h10v1h-10zM513 333h1v1h-1zM497 334h13v1h-13zM511 334h1v1h-1zM513 334h3v1h-3zM497 335h19v1h-19zM520 335h1v1h-1zM522 335h3v1h-3zM501 336h20v1h-20zM522 336h3v1h-3zM503 337h22v1h-22zM530 337h1v1h-1zM504 338h1v1h-1zM507 338h1v1h-1zM512 338h3v1h-3zM516 338h16v1h-16zM535 338h2v1h-2zM516 339h4v1h-4zM521 339h12v1h-12zM535 339h2v1h-2zM521 340h2v1h-2zM524 340h13v1h-13zM540 340h2v1h-2zM522 341h1v1h-1zM524 341h14v1h-14zM540 341h2v1h-2zM549 341h2v1h-2zM526 342h2v1h-2zM531 342h12v1h-12zM546 342h5v1h-5zM527 343h1v1h-1zM531 343h5v1h-5zM537 343h15v1h-15zM532 344h1v1h-1zM537 344h18v1h-18zM559 344h2v1h-2zM539 345h2v1h-2zM542 345h13v1h-13zM556 345h5v1h-5zM562 345h1v1h-1zM542 346h2v1h-2zM545 346h5v1h-5zM551 346h8v1h-8zM560 346h3v1h-3zM564 346h1v1h-1zM546 347h4v1h-4zM552 347h1v1h-1zM554 347h4v1h-4zM560 347h6v1h-6zM555 348h2v1h-2zM562 348h6v1h-6zM555 349h2v1h-2zM562 349h7v1h-7zM565 350h6v1h-6zM565 351h6v1h-6zM572 351h1v1h-1zM565 352h6v1h-6zM572 352h2v1h-2zM575 352h2v1h-2zM566 353h14v1h-14zM567 354h13v1h-13zM567 355h13v1h-13zM585 355h1v1h-1zM569 356h1v1h-1zM571 356h2v1h-2zM574 356h9v1h-9zM585 356h1v1h-1zM575 357h11v1h-11zM579 358h7v1h-7zM581 359h5v1h-5zM582 360h1v1h-1zM584 360h2v1h-2z"/>
<path fill="#000080" d="M79 46h2v1h-2zM79 47h2v1h-2zM79 48h2v1h-2zM79 49h2v1h-2zM80 50h1v1h-1zM80 51h1v1h-1zM80 52h2v1h-2zM80 53h2v1h-2zM80 54h2v1h-2zM80 55h2v1h-2zM80 56h2v1h-2zM80 57h2v1h-2zM80 58h2v1h-2zM80 59h2v1h-2zM80 60h2v1h-2zM80 61h2v1h-2zM81 62h1v1h-1zM81 63h1v1h-1zM81 64h1v1h-1zM81 65h2v1h-2zM81 66h2v1h-2zM81 67h2v1h-2zM81 68h2v1h-2zM81 69h2v1h-2zM81 70h2v1h-2zM81 71h2v1h-2zM81 72h2v1h-2zM81 73h2v1h-2zM81 74h2v1h-2zM81 75h2v1h-2zM81 76h2v1h-2zM81 77h2v1h-2zM82 78h1v1h-1zM82 79h1v1h-1zM82 80h1v1h-1zM82 81h2v1h-2zM82 82h2v1h-2zM82 83h2v1h-2zM82 84h2v1h-2zM82 85h2v1h-2zM82 86h2v1h-2zM82 87h2v1h-2zM82 88h2v1h-2zM82 89h2v1h-2zM82 90h2v1h-2zM82 91h2v1h-2zM83 92h1v1h-1zM83 93h1v1h-1zM83 94h1v1h-1zM83 95h2v1h-2zM83 96h2v1h-2zM83 97h2v1h-2zM83 98h2v1h-2zM83 99h2v1h-2zM83 100h2v1h-2zM83 101h2v1h-2zM83 102h2v1h-2zM83 103h2v1h-2zM83 104h2v1h-2zM83 105h2v1h-2zM83 106h2v1h-2zM84 107h1v1h-1zM84 108h1v1h-1zM84 109h2v1h-2zM84 110h2v1h-2zM84 111h2v1h-2zM84 112h2v1h-2zM84 113h2v1h-2zM84 114h2v1h-2zM84 115h2v1h-2zM84 116h2v1h-2zM84 117h2v1h-2zM84 118h2v1h-2zM84 119h2v1h-2zM85 120h1v1h-1zM85 121h1v1h-1zM85 122h2v1h-2zM85 123h2v1h-2zM85 124h2v1h-2zM85 125h2v1h-2zM85 126h2v1h-2zM85 127h2v1h-2zM86 128h1v1h-1zM86 129h1v1h-1zM86 130h2v1h-2zM86 131h2v1h-2zM86 132h2v1h-2zM86 133h2v1h-2zM86 134h2v1h-2zM87 135h1v1h-1zM87 136h1v1h-1zM87 137h2v1h-2zM87 138h2v1h-2zM87 139h2v1h-2zM87 140h2v1h-2zM87 141h2v1h-2zM88 142h1v1h-1zM88 143h2v1h-2zM88 144h2v1h-2zM88 145h2v1h-2zM89 146h1v1h-1zM89 147h2v1h-2zM89 148h2v1h-2zM89 149h2v1h-2zM90 150h2v1h-2zM90 151h2v1h-2zM90 152h3v1h-3zM91 153h2v1h-2zM91 154h3v1h-3zM92 155h2v1h-2zM92 156h3v1h-3zM93 157h2v1h-2zM94 158h2v1h-2zM94 159h3v1h-3zM95 160h2v1h-2zM95 161h3v1h-3zM96 162h3v1h-3zM97 163h2v1h-2zM97 164h3v1h-3zM97 165h4v1h-4zM98 166h3v1h-3zM99 167h3v1h-3zM100 168h3v1h-3zM100 169h4v1h-4zM102 170h2v1h-2zM102 171h5v1h-5zM103 172h4v1h-4zM104 173h4v1h-4zM105 174h3v1h-3zM106 175h3v1h-3zM107 176h2v1h-2zM108 177h3v1h-3zM109 178h3v1h-3zM109 179h5v1h-5zM112 180h3v1h-3zM112 181h4v1h-4zM114 182h3v1h-3zM115 183h3v1h-3zM116 184h4v1h-4zM117 185h4v1h-4zM117 186h5v1h-5zM119 187h5v1h-5zM121 188h4v1h-4zM121 189h6v1h-6zM124 190h3v1h-3zM126 191h1v1h-1zM126 192h2v1h-2zM126 193h5v1h-5zM127 194h5v1h-5zM128 195h4v1h-4zM130 196h4v1h-4zM131 197h4v1h-4zM132 198h4v1h-4zM133 199h4v1h-4zM134 200h3v1h-3zM135 201h4v1h-4zM137 202h3v1h-3zM137 203h4v1h-4zM138 204h6v1h-6zM140 205h5v1h-5zM142 206h5v1h-5zM148 206h1v1h-1zM144 207h5v1h-5zM145 208h7v1h-7zM147 209h5v1h-5zM149 210h4v1h-4zM151 211h5v1h-5zM151 212h6v1h-6zM152 213h6v1h-6zM155 214h4v1h-4zM156 215h6v1h-6zM158 216h6v1h-6zM161 217h4v1h-4zM163 218h4v1h-4zM164 219h4v1h-4zM164 220h5v1h-5zM167 221h4v1h-4zM168 222h6v1h-6zM168 223h6v1h-6zM170 224h5v1h-5zM173 225h5v1h-5zM174 226h4v1h-4zM175 227h8v1h-8zM177 228h6v1h-6zM184 228h1v1h-1zM179 229h10v1h-10zM182 230h7v1h-7zM182 231h9v1h-9zM183 232h1v1h-1zM185 232h8v1h-8zM188 233h5v1h-5zM189 234h6v1h-6zM192 235h5v1h-5zM192 236h7v1h-7zM194 237h1v1h-1zM196 237h5v1h-5zM197 238h4v1h-4zM198 239h5v1h-5zM201 240h4v1h-4zM209 240h1v1h-1zM202 241h9v1h-9zM204 242h8v1h-8zM206 243h6v1h-6zM213 243h3v1h-3zM210 244h9v1h-9zM210 245h2v1h-2zM213 245h7v1h-7zM216 246h4v1h-4zM221 246h2v1h-2zM217 247h6v1h-6zM219 248h5v1h-5zM220 249h7v1h-7zM228 249h1v1h-1zM221 250h9v1h-9zM232 250h1v1h-1zM223 251h7v1h-7zM231 251h2v1h-2zM223 252h2v1h-2zM227 252h1v1h-1zM229 252h7v1h-7zM230 253h6v1h-6zM231 254h8v1h-8zM233 255h8v1h-8zM236 256h6v1h-6zM237 257h7v1h-7zM239 258h6v1h-6zM248 258h2v1h-2zM241 259h6v1h-6zM248 259h3v1h-3zM242 260h10v1h-10zM245 261h3v1h-3zM250 261h4v1h-4zM256 261h1v1h-1zM251 262h9v1h-9zM251 263h9v1h-9zM255 264h7v1h-7zM258 265h5v1h-5zM258 266h7v1h-7zM266 266h1v1h-1zM261 267h9v1h-9zM271 267h1v1h-1zM262 268h10v1h-10zM266 269h9v1h-9zM276 269h2v1h-2zM269 270h9v1h-9zM283 270h2v1h-2zM271 271h11v1h-11zM283 271h2v1h-2zM272 272h3v1h-3zM276 272h6v1h-6zM283 272h4v1h-4zM278 273h9v1h-9zM288 273h3v1h-3zM278 274h13v1h-13zM292 274h1v1h-1zM282 275h1v1h-1zM284 275h10v1h-10zM285 276h3v1h-3zM289 276h6v1h-6zM298 276h1v1h-1zM287 277h1v1h-1zM290 277h9v1h-9zM292 278h9v1h-9zM303 278h1v1h-1zM294 279h3v1h-3zM298 279h6v1h-6zM305 279h2v1h-2zM298 280h1v1h-1zM300 280h8v1h-8zM301 281h11v1h-11zM313 281h1v1h-1zM301 282h1v1h-1zM303 282h11v1h-11zM306 283h10v1h-10zM318 283h1v1h-1zM308 284h12v1h-12zM321 284h1v1h-1zM308 285h4v1h-4zM313 285h11v1h-11zM310 286h2v1h-2zM313 286h1v1h-1zM316 286h8v1h-8zM319 287h6v1h-6zM326 287h2v1h-2zM321 288h10v1h-10zM321 289h1v1h-1zM325 289h7v1h-7zM326 290h9v1h-9zM326 291h2v1h-2zM329 291h7v1h-7zM330 292h6v1h-6zM337 292h1v1h-1zM334 293h8v1h-8zM334 294h12v1h-12zM336 295h1v1h-1zM338 295h10v1h-10zM349 295h1v1h-1zM353 295h2v1h-2zM338 296h1v1h-1zM340 296h3v1h-3zM344 296h11v1h-11zM356 296h1v1h-1zM341 297h1v1h-1zM344 297h13v1h-13zM345 298h1v1h-1zM348 298h3v1h-3zM352 298h5v1h-5zM350 299h1v1h-1zM353 299h7v1h-7zM354 300h7v1h-7zM356 301h9v1h-9zM367 301h1v1h-1zM357 302h1v1h-1zM359 302h12v1h-12zM359 303h1v1h-1zM361 303h13v1h-13zM363 304h1v1h-1zM368 304h7v1h-7zM370 305h7v1h-7zM372 306h6v1h-6zM379 306h2v1h-2zM382 306h2v1h-2zM375 307h9v1h-9zM377 308h7v1h-7zM386 308h1v1h-1zM390 308h2v1h-2zM378 309h10v1h-10zM389 309h4v1h-4zM394 309h1v1h-1zM378 310h17v1h-17zM383 311h3v1h-3zM387 311h9v1h-9zM388 312h10v1h-10zM399 312h1v1h-1zM391 313h2v1h-2zM394 313h4v1h-4zM399 313h2v1h-2zM392 314h1v1h-1zM395 314h1v1h-1zM397 314h4v1h-4zM403 314h1v1h-1zM406 314h2v1h-2zM397 315h12v1h-12zM400 316h11v1h-11zM400 317h4v1h-4zM405 317h11v1h-11zM401 318h1v1h-1zM409 318h9v1h-9zM411 319h9v1h-9zM422 319h1v1h-1zM413 320h8v1h-8zM422 320h2v1h-2zM425 320h1v1h-1zM415 321h12v1h-12zM418 322h9v1h-9zM428 322h1v1h-1zM430 322h1v1h-1zM437 322h2v1h-2zM419 323h2v1h-2zM423 323h12v1h-12zM436 323h5v1h-5zM420 324h1v1h-1zM425 324h16v1h-16zM427 325h1v1h-1zM429 325h12v1h-12zM443 325h1v1h-1zM431 326h5v1h-5zM437 326h7v1h-7zM447 326h1v1h-1zM440 327h5v1h-5zM447 327h2v1h-2zM440 328h9v1h-9zM450 328h3v1h-3zM440 329h2v1h-2zM443 329h10v1h-10zM443 330h13v1h-13zM458 330h2v1h-2zM444 331h3v1h-3zM448 331h2v1h-2zM451 331h10v1h-10zM463 331h2v1h-2zM467 331h1v1h-1zM469 331h1v1h-1zM448 332h2v1h-2zM451 332h14v1h-14zM466 332h4v1h-4zM454 333h19v1h-19zM457 334h17v1h-17zM460 335h2v1h-2zM464 335h11v1h-11zM482 335h2v1h-2zM460 336h2v1h-2zM465 336h1v1h-1zM467 336h11v1h-11zM481 336h3v1h-3zM468 337h2v1h-2zM473 337h11v1h-11zM485 337h2v1h-2zM468 338h2v1h-2zM474 338h13v1h-13zM493 338h1v1h-1zM474 339h4v1h-4zM479 339h10v1h-10zM490 339h4v1h-4zM475 340h1v1h-1zM479 340h3v1h-3zM483 340h12v1h-12zM483 341h13v1h-13zM501 341h1v1h-1zM483 342h2v1h-2zM486 342h13v1h-13zM500 342h3v1h-3zM511 342h2v1h-2zM492 343h12v1h-12zM511 343h2v1h-2zM520 343h1v1h-1zM493 344h3v1h-3zM497 344h10v1h-10zM508 344h2v1h-2zM511 344h2v1h-2zM515 344h1v1h-1zM517 344h1v1h-1zM520 344h2v1h-2zM497 345h16v1h-16zM514 345h8v1h-8zM497 346h2v1h-2zM503 346h2v1h-2zM506 346h16v1h-16zM506 347h2v1h-2zM509 347h9v1h-9zM519 347h4v1h-4zM506 348h2v1h-2zM512 348h5v1h-5zM520 348h7v1h-7zM520 349h10v1h-10zM531 349h3v1h-3zM522 350h12v1h-12zM538 350h1v1h-1zM522 351h17v1h-17zM523 352h1v1h-1zM525 352h14v1h-14zM546 352h2v1h-2zM525 353h2v1h-2zM528 353h1v1h-1zM531 353h10v1h-10zM544 353h6v1h-6zM551 353h2v1h-2zM555 353h1v1h-1zM532 354h28v1h-28zM533 355h28v1h-28zM533 356h3v1h-3zM538 356h2v1h-2zM541 356h8v1h-8zM550 356h1v1h-1zM553 356h9v1h-9zM541 357h8v1h-8zM553 357h10v1h-10zM541 358h2v1h-2zM546 358h2v1h-2zM556 358h10v1h-10zM557 359h1v1h-1zM560 359h7v1h-7zM568 359h1v1h-1zM571 359h2v1h-2zM560 360h7v1h-7zM568 360h2v1h-2zM571 360h2v1h-2zM560 361h16v1h-16zM563 362h1v1h-1zM565 362h11v1h-11zM584 362h1v1h-1zM566 363h3v1h-3zM570 363h7v1h-7zM579 363h1v1h-1zM581 363h1v1h-1zM583 363h2v1h-2zM567 364h2v1h-2zM571 364h14v1h-14zM567 365h2v1h-2zM571 365h14v1h-14zM568 366h1v1h-1zM574 366h11v1h-11zM576 367h10v1h-10zM580 368h2v1h-2zM584 368h2v1h-2zM580 369h2v1h-2z"/>
</g>
<text id="title" x="1091.6" y="116.2" font-size="100.0" fill="#111" textLength="578.2" lengthAdjust="spacing">Sample G+R</text>
<text id="blue" x="2169.0" y="280.0" font-size="99.0" font-weight="bold" fill="#00f" textLength="213.8" lengthAdjust="spacing">Blue</text>
<text id="a1" x="728.0" y="338.0" font-size="88.0" fill="#111" textLength="569.5" lengthAdjust="spacing">G+R (intrinsic)</text>
<text id="a2" x="1113.0" y="513.6" font-size="88.0" fill="#f00" textLength="385.0" lengthAdjust="spacing">G+R (PS)</text>
<text id="a3" x="1460.2" y="676.6" font-size="88.0" fill="#00f" textLength="641.8" lengthAdjust="spacing">G+R (w/o SP, //)</text>
<text id="a5" x="1166.8" y="1451.3" font-size="88.0" fill="#008000" textLength="478.9" lengthAdjust="spacing">G+R (SP, //)</text>
<text id="x0" x="303.6" y="1824.0" font-size="88.0" fill="#111">0</text>
<text id="x2" x="639.5" y="1824.0" font-size="88.0" fill="#111">2</text>
<text id="x4" x="968.6" y="1824.0" font-size="88.0" fill="#111">4</text>
<text id="x6" x="1300.9" y="1824.0" font-size="88.0" fill="#111">6</text>
<text id="x8" x="1635.7" y="1824.0" font-size="88.0" fill="#111">8</text>
<text id="x10" x="1942.0" y="1824.0" font-size="88.0" fill="#111">10</text>
<text id="x12" x="2275.2" y="1824.0" font-size="88.0" fill="#111">12</text>
<text id="y01" x="166.4" y="1425.0" font-size="88.0" fill="#111">0.1</text>
<text y="1300.3" font-size="88" fill="#f0f"><tspan x="652.0" textLength="535.5" lengthAdjust="spacing">G+R (w/o SP,</tspan> <tspan x="1217.9" font-size="75" textLength="80.9" lengthAdjust="spacingAndGlyphs">⊥</tspan><tspan x="1305.5">)</tspan></text>
<text y="1614.4" font-size="88" fill="#000080"><tspan x="1497.4" textLength="369.4" lengthAdjust="spacing">G+R (SP,</tspan> <tspan x="1899.9" font-size="75" textLength="80.9" lengthAdjust="spacingAndGlyphs">⊥</tspan><tspan x="1989.9">)</tspan></text>
<text x="292" y="233.7" font-size="88" text-anchor="end" fill="#111">1</text>
<text transform="translate(1394.8 1937.2) scale(0.958 1)" font-size="118" font-weight="bold" text-anchor="middle" fill="#000">Time (ns)</text>
<text transform="translate(114.8 962.2) rotate(-90) scale(0.958 1)" font-size="118" font-weight="bold" text-anchor="middle" fill="#000">Normalized intensity</text>
<line x1="928.0" y1="353.2" x2="884.8" y2="469.5" stroke="#000" stroke-width="3.5" stroke-opacity="0.80"/><polygon points="876.5,492.0 871.7,460.4 900.8,471.1" fill="#000"/>
<line x1="1250.2" y1="536.1" x2="1197.8" y2="654.1" stroke="#f00" stroke-width="3.5" stroke-opacity="0.80"/><polygon points="1188.0,676.0 1185.2,644.1 1213.5,656.7" fill="#f00"/>
<line x1="1604.0" y1="705.1" x2="1451.5" y2="970.2" stroke="#00f" stroke-width="3.5" stroke-opacity="0.80"/><polygon points="1439.5,991.0 1440.0,959.0 1466.9,974.5" fill="#00f"/>
<line x1="1227.7" y1="1227.6" x2="1336.9" y2="991.8" stroke="#f0f" stroke-width="3.5" stroke-opacity="0.80"/><polygon points="1347.0,970.0 1349.3,1001.9 1321.2,988.9" fill="#f0f"/>
<line x1="1542.0" y1="1383.0" x2="1589.3" y2="1276.0" stroke="#008000" stroke-width="3.5" stroke-opacity="0.80"/><polygon points="1599.0,1254.0 1601.9,1285.9 1573.5,1273.3" fill="#008000"/>
<line x1="2020.4" y1="1530.3" x2="2100.5" y2="1464.3" stroke="#000080" stroke-width="3.5" stroke-opacity="0.80"/><polygon points="2119.0,1449.0 2107.3,1478.8 2087.5,1454.9" fill="#000080"/>
</svg></body></html>
